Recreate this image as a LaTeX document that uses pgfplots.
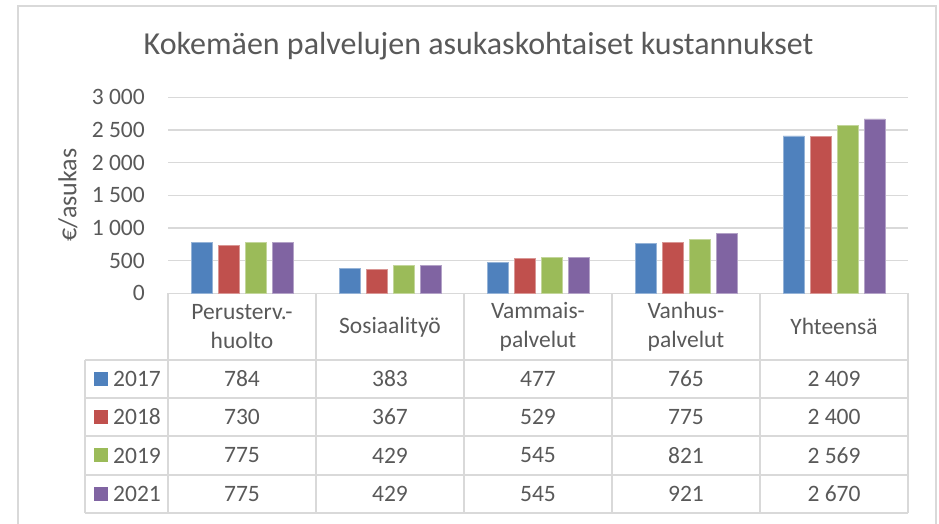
\documentclass[border=0pt]{standalone}
\usepackage{fontspec}
\setmainfont{Carlito}
\usepackage{pgfplots}
\pgfplotsset{compat=1.18}
\definecolor{c17}{HTML}{4F81BD}
\definecolor{c18}{HTML}{C0504D}
\definecolor{c19}{HTML}{9BBB59}
\definecolor{c21}{HTML}{8064A2}
\definecolor{gridc}{HTML}{D9D9D9}
\definecolor{txt}{HTML}{595959}
\newcommand{\tf}{\fontsize{23.5}{29}\selectfont}
\begin{document}
\begin{tikzpicture}[x=1pt,y=1pt]
\path[use as bounding box] (0,0) rectangle (939,524);
\draw[gridc, line width=1.2pt] (18,0) -- (18,518) -- (936,518) -- (936,0);
\node[anchor=base, text=txt, font=\fontsize{32}{38}\selectfont, inner sep=0pt] at (478.5,469) {Kokemäen palvelujen asukaskohtaiset kustannukset};
\node[rotate=90, text=txt, font=\fontsize{26}{30}\selectfont, inner sep=0pt] at (68,329) {€/asukas};
% data table grid
\begin{scope}[gridc, line width=1.5pt]
\foreach \yy in {164,126,88,49,11} \draw (85,\yy) -- (908,\yy);
\foreach \xx in {168,316,464,612,760,908} \draw (\xx,230.7) -- (\xx,11);
\draw (85,164) -- (85,11);
\end{scope}
\begin{axis}[
  at={(168pt,230.7pt)}, anchor=south west,
  width=740pt, height=196pt, scale only axis,
  xmin=-0.5, xmax=4.5, ymin=0, ymax=3000,
  ybar=6pt, bar width=21pt,
  axis line style={draw=none},
  major tick length=0pt,
  ytick={0,500,...,3000},
  yticklabels={0,500,1 000,1 500,2 000,2 500,3 000},
  yticklabel style={anchor=east, inner sep=0pt, xshift=-23pt, font=\tf, text=txt},
  xtick={0,1,2,3,4},
  xticklabels={{Perusterv.-\\huolto},Sosiaalityö,{Vammais-\\palvelut},{Vanhus-\\palvelut},Yhteensä},
  xticklabel style={anchor=center, align=center, inner sep=0pt, yshift=-33.5pt, font=\tf, text=txt},
  ymajorgrids, grid style={gridc, line width=1.5pt},
  clip=false,
]
\addplot[fill=c17, draw=c17!60!white, line width=0.5pt] coordinates {(0,784) (1,383) (2,477) (3,765) (4,2409)};
\addplot[fill=c18, draw=c18!60!white, line width=0.5pt] coordinates {(0,730) (1,367) (2,529) (3,775) (4,2400)};
\addplot[fill=c19, draw=c19!60!white, line width=0.5pt] coordinates {(0,775) (1,429) (2,545) (3,821) (4,2569)};
\addplot[fill=c21, draw=c21!60!white, line width=0.5pt] coordinates {(0,775) (1,429) (2,545) (3,921) (4,2670)};
\end{axis}
% legend keys and table values
\begin{scope}[every node/.style={text=txt, font=\tf, inner sep=0pt}]
\fill[c17] (94,138) rectangle (108,152); \node[anchor=west] at (113,145) {2017};
\fill[c18] (94,100) rectangle (108,114); \node[anchor=west] at (113,107) {2018};
\fill[c19] (94,61.5) rectangle (108,75.5); \node[anchor=west] at (113,68.5) {2019};
\fill[c21] (94,23) rectangle (108,37); \node[anchor=west] at (113,30) {2021};
\node at (242,145) {784}; \node at (390,145) {383}; \node at (538,145) {477}; \node at (686,145) {765}; \node at (834,145) {2 409};
\node at (242,107) {730}; \node at (390,107) {367}; \node at (538,107) {529}; \node at (686,107) {775}; \node at (834,107) {2 400};
\node at (242,68.5) {775}; \node at (390,68.5) {429}; \node at (538,68.5) {545}; \node at (686,68.5) {821}; \node at (834,68.5) {2 569};
\node at (242,30) {775}; \node at (390,30) {429}; \node at (538,30) {545}; \node at (686,30) {921}; \node at (834,30) {2 670};
\end{scope}
\end{tikzpicture}
\end{document}
